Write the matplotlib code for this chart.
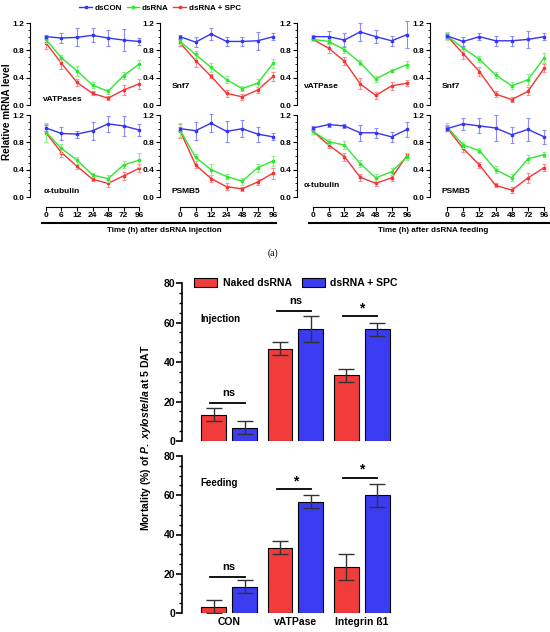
import matplotlib
matplotlib.use("Agg")
import matplotlib.pyplot as plt
from matplotlib.lines import Line2D
from matplotlib.patches import Patch
from matplotlib.ticker import MultipleLocator
import numpy as np

plt.rcParams['font.family'] = ['Liberation Sans', 'DejaVu Sans']
plt.rcParams['font.weight'] = 'bold'
plt.rcParams['mathtext.fontset'] = 'custom'
plt.rcParams['mathtext.it'] = 'Liberation Sans:italic:bold'
plt.rcParams['mathtext.rm'] = 'Liberation Sans:bold'

# ---------------- data: relative mRNA level ----------------
time_labels = ["0", "6", "12", "24", "48", "72", "96"]
series_names = ["dsCON", "dsRNA", "dsRNA + SPC"]

genes = ["vATPases", "Snf7", "vATPase", "Snf7",
         "\u03b1-tubulin", "PSMB5", "\u03b1-tubulin", "PSMB5"]

dscon_mean = [
    [1.00, 0.98, 0.99, 1.02, 0.98, 0.95, 0.93],
    [1.00, 0.92, 1.04, 0.93, 0.93, 0.94, 1.00],
    [1.00, 1.00, 0.95, 1.07, 1.00, 0.94, 1.03],
    [1.01, 0.93, 1.00, 0.94, 0.94, 0.96, 1.00],
    [1.01, 0.93, 0.92, 0.97, 1.07, 1.04, 0.98],
    [1.00, 0.97, 1.08, 0.96, 1.00, 0.92, 0.88],
    [1.01, 1.06, 1.04, 0.94, 0.94, 0.88, 0.99],
    [1.00, 1.07, 1.04, 1.01, 0.91, 0.99, 0.88],
]
dscon_err = [
    [0.03, 0.08, 0.13, 0.10, 0.12, 0.16, 0.05],
    [0.03, 0.07, 0.09, 0.07, 0.06, 0.13, 0.05],
    [0.03, 0.09, 0.10, 0.13, 0.10, 0.07, 0.20],
    [0.03, 0.07, 0.05, 0.07, 0.07, 0.13, 0.05],
    [0.04, 0.10, 0.05, 0.13, 0.12, 0.14, 0.09],
    [0.03, 0.13, 0.13, 0.15, 0.12, 0.11, 0.05],
    [0.03, 0.03, 0.03, 0.12, 0.07, 0.07, 0.11],
    [0.04, 0.09, 0.11, 0.19, 0.12, 0.17, 0.10],
]
dsrna_mean = [
    [0.96, 0.69, 0.50, 0.29, 0.20, 0.43, 0.60],
    [0.93, 0.74, 0.55, 0.37, 0.24, 0.32, 0.61],
    [0.96, 0.93, 0.81, 0.62, 0.38, 0.50, 0.59],
    [1.01, 0.83, 0.67, 0.44, 0.28, 0.37, 0.69],
    [0.95, 0.71, 0.54, 0.32, 0.27, 0.47, 0.54],
    [0.98, 0.58, 0.40, 0.30, 0.23, 0.43, 0.53],
    [0.96, 0.81, 0.76, 0.49, 0.28, 0.37, 0.59],
    [1.03, 0.76, 0.68, 0.40, 0.28, 0.56, 0.62],
]
dsrna_err = [
    [0.05, 0.04, 0.07, 0.04, 0.04, 0.05, 0.06],
    [0.04, 0.05, 0.06, 0.05, 0.04, 0.06, 0.07],
    [0.03, 0.04, 0.05, 0.04, 0.04, 0.02, 0.05],
    [0.06, 0.04, 0.04, 0.04, 0.05, 0.08, 0.07],
    [0.14, 0.06, 0.05, 0.03, 0.05, 0.05, 0.10],
    [0.10, 0.05, 0.08, 0.04, 0.05, 0.06, 0.07],
    [0.04, 0.04, 0.06, 0.05, 0.05, 0.05, 0.05],
    [0.06, 0.05, 0.03, 0.05, 0.05, 0.06, 0.04],
]
spc_mean = [
    [0.91, 0.61, 0.33, 0.17, 0.10, 0.22, 0.31],
    [0.91, 0.65, 0.42, 0.17, 0.12, 0.22, 0.42],
    [0.96, 0.83, 0.64, 0.31, 0.14, 0.28, 0.32],
    [1.01, 0.75, 0.49, 0.16, 0.08, 0.20, 0.54],
    [0.94, 0.65, 0.45, 0.26, 0.20, 0.31, 0.42],
    [0.97, 0.47, 0.27, 0.15, 0.12, 0.22, 0.35],
    [0.96, 0.76, 0.59, 0.29, 0.20, 0.28, 0.61],
    [1.01, 0.71, 0.47, 0.17, 0.10, 0.28, 0.43],
]
spc_err = [
    [0.09, 0.09, 0.05, 0.03, 0.03, 0.07, 0.07],
    [0.05, 0.09, 0.03, 0.05, 0.04, 0.05, 0.07],
    [0.03, 0.07, 0.06, 0.08, 0.05, 0.06, 0.04],
    [0.04, 0.07, 0.07, 0.05, 0.03, 0.06, 0.06],
    [0.13, 0.06, 0.04, 0.03, 0.05, 0.06, 0.06],
    [0.10, 0.05, 0.05, 0.05, 0.03, 0.05, 0.08],
    [0.04, 0.05, 0.06, 0.05, 0.04, 0.04, 0.04],
    [0.04, 0.05, 0.04, 0.03, 0.04, 0.07, 0.05],
]

# ---------------- data: mortality ----------------
bar_groups = ["CON", "vATPase", "Integrin \u00df1"]
bar_series = ["Naked dsRNA", "dsRNA + SPC"]
inj_naked = [13.3, 46.7, 33.3]
inj_naked_err = [3.3, 3.3, 3.3]
inj_spc = [6.7, 56.7, 56.7]
inj_spc_err = [3.3, 6.7, 3.3]
feed_naked = [3.3, 33.3, 23.3]
feed_naked_err = [3.3, 3.3, 6.7]
feed_spc = [13.3, 56.7, 60.0]
feed_spc_err = [3.3, 3.3, 5.8]
inj_sig = ["ns", "ns", "*"]
feed_sig = ["ns", "*", "*"]

# ---------------- figure ----------------
W, H = 550, 632
fig = plt.figure(figsize=(W / 100, H / 100), dpi=100)


def px_axes(l, t, r, b):
    return fig.add_axes([l / W, 1 - b / H, (r - l) / W, (b - t) / H])


line_colors = ["#3535f5", "#2ee82e", "#f53535"]
err_colors = ["#8a8aff", "#8af08a", "#ff8a8a"]

cols = [(30, 140, -1.02), (160, 274, -1.29), (297, 408, -1.02), (430, 545, -1.05)]
rows = [(23, 105), (115, 197)]
label_pos = [(0.12, 0.07), (0.1, 0.22), (0.06, 0.22), (0.1, 0.22),
             (0.12, 0.07), (0.1, 0.07), (0.06, 0.14), (0.1, 0.07)]

xs = np.arange(len(time_labels))
for i in range(8):
    r, c = divmod(i, 4)
    l, rr, xmin = cols[c]
    t, b = rows[r]
    ax = px_axes(l, t, rr, b)
    data = [(dscon_mean[i], dscon_err[i]), (dsrna_mean[i], dsrna_err[i]),
            (spc_mean[i], spc_err[i])]
    for k, (m, e) in enumerate(data):
        ax.errorbar(xs, m, yerr=e, color=line_colors[k], ecolor=err_colors[k],
                    elinewidth=0.8, capsize=1.5, capthick=0.8, lw=1.0,
                    marker='s', ms=2.0, clip_on=False, zorder=3 + (2 - k))
    ax.set_xlim(xmin, 6.05)
    ax.set_ylim(0, 1.2)
    ax.yaxis.set_major_locator(MultipleLocator(0.4))
    ax.yaxis.set_minor_locator(MultipleLocator(0.1))
    ax.set_yticklabels([f"{v:.1f}" for v in ax.get_yticks()])
    ax.tick_params(axis='y', which='major', length=3, width=0.8, labelsize=6, pad=1)
    ax.tick_params(axis='y', which='minor', length=1.5, width=0.6)
    for s in ['top', 'right']:
        ax.spines[s].set_visible(False)
    ax.spines['left'].set_linewidth(0.8)
    if r == 0:
        ax.spines['bottom'].set_visible(False)
        ax.set_xticks([])
    else:
        ax.spines['bottom'].set_position(('outward', 7))
        ax.spines['bottom'].set_bounds(0, 6)
        ax.spines['bottom'].set_linewidth(0.8)
        ax.set_xticks(xs)
        ax.set_xticklabels(time_labels)
        ax.tick_params(axis='x', length=3, width=0.8, labelsize=6, pad=1)
    for lab in ax.get_xticklabels() + ax.get_yticklabels():
        lab.set_fontweight('bold')
    lx, ly = label_pos[i]
    ax.text(lx, ly, genes[i], transform=ax.transAxes, fontsize=6,
            fontweight='bold', ha='left', va='center')

# thick rules under the time axes and their titles
for (x0, x1, txt, xc) in [(42, 276, "Time (h) after dsRNA injection", 164),
                          (309, 550, "Time (h) after dsRNA feeding", 433)]:
    fig.add_artist(Line2D([x0 / W, x1 / W], [1 - 223 / H, 1 - 223 / H],
                          color='black', lw=1.5))
    fig.text(xc / W, 1 - 231 / H, txt, ha='center', va='center',
             fontsize=5.8, fontweight='bold')

fig.text(7 / W, 1 - 112 / H, "Relative mRNA level", rotation=90,
         ha='center', va='center', fontsize=7.2, fontweight='bold')

handles = [Line2D([0], [0], color=line_colors[k], marker='s', ms=2.0, lw=1.0)
           for k in range(3)]
fig.legend(handles, series_names, loc='center', bbox_to_anchor=(160 / W, 1 - 8 / H),
           ncol=3, frameon=False, handlelength=1.6,
           handletextpad=0.3, columnspacing=0.6, prop={'weight': 'bold', 'size': 5.8})

fig.text(273 / W, 1 - 253 / H, "(a)", ha='center', va='center', fontsize=7,
         family='Liberation Serif', fontweight='normal')

# ---------------- bar charts ----------------
bar_red = "#f23b3b"
bar_blue = "#3b3bf2"
gx = np.arange(len(bar_groups))
bw = 0.376
off = 0.233


def bar_panel(t, b, naked, naked_err, spc, spc_err, sig, sig_y, title, title_y,
              show_x):
    ax = px_axes(182, t, 395, b)
    ax.bar(gx - off, naked, bw, color=bar_red, edgecolor='black', lw=0.8)
    ax.bar(gx + off, spc, bw, color=bar_blue, edgecolor='black', lw=0.8)
    ax.errorbar(gx - off, naked, yerr=naked_err, fmt='none', ecolor='#333333',
                elinewidth=1.0, capsize=5.5, capthick=1.0)
    ax.errorbar(gx + off, spc, yerr=spc_err, fmt='none', ecolor='#333333',
                elinewidth=1.0, capsize=5.5, capthick=1.0)
    for j in range(len(gx)):
        y = sig_y[j]
        ax.plot([gx[j] - off - 0.05, gx[j] + off], [y, y], color='black', lw=1.3)
        if sig[j] == "ns":
            ax.text(gx[j], y + 2.5, "ns", ha='center', va='bottom', fontsize=8,
                    fontweight='bold')
        else:
            ax.text(gx[j], y + 0.5, "*", ha='center', va='bottom', fontsize=10,
                    fontweight='bold')
    ax.set_xlim(-0.71, 2.5)
    ax.set_ylim(0, 80)
    ax.yaxis.set_major_locator(MultipleLocator(20))
    ax.yaxis.set_minor_locator(MultipleLocator(5))
    ax.tick_params(axis='y', which='major', length=4, width=1.2, labelsize=7.5, pad=1)
    ax.tick_params(axis='y', which='minor', length=2.5, width=1.0)
    for s in ['top', 'right', 'bottom']:
        ax.spines[s].set_visible(False)
    ax.spines['left'].set_linewidth(1.2)
    ax.set_xticks(gx)
    if show_x:
        ax.set_xticklabels(bar_groups)
        ax.tick_params(axis='x', length=0, labelsize=7.5, pad=3)
    else:
        ax.set_xticklabels([])
        ax.tick_params(axis='x', length=0)
    for lab in ax.get_xticklabels() + ax.get_yticklabels():
        lab.set_fontweight('bold')
    ax.text(-0.44, title_y, title, ha='left', va='center', fontsize=7,
            fontweight='bold')
    return ax


ax_inj = bar_panel(283, 441, inj_naked, inj_naked_err, inj_spc, inj_spc_err,
                   inj_sig, [19.2, 65.8, 63.3], "Injection", 62, False)
ax_feed = bar_panel(456, 613, feed_naked, feed_naked_err, feed_spc, feed_spc_err,
                    feed_sig, [18.4, 63.2, 69.0], "Feeding", 66, True)

ax_inj.legend([Patch(facecolor=bar_red, edgecolor='black', lw=0.8),
               Patch(facecolor=bar_blue, edgecolor='black', lw=0.8)],
              bar_series, loc='center', bbox_to_anchor=(0.535, 1.0), ncol=2,
              frameon=False, handlelength=2.2, handleheight=0.9,
              handletextpad=0.5, columnspacing=1.0,
              prop={'weight': 'bold', 'size': 7.5})

fig.text(146 / W, 1 - 438 / H,
         r"Mortality (%) of $\mathit{P.\ xylostella}$ at 5 DAT",
         rotation=90, ha='center', va='center', fontsize=7.5, fontweight='bold')

fig.savefig("out.png", dpi=100)
